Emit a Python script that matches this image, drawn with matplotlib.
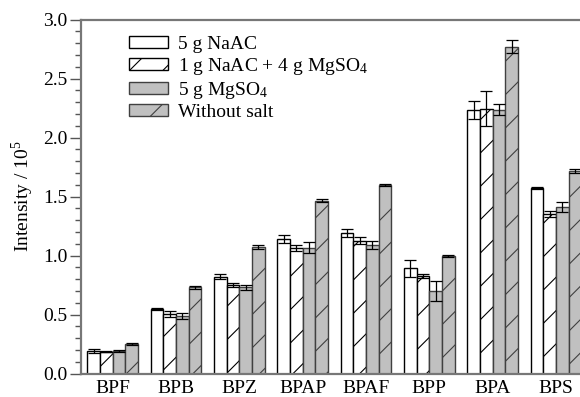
import numpy as np
import matplotlib
matplotlib.use("Agg")
import matplotlib.pyplot as plt
from matplotlib.ticker import MultipleLocator

plt.rcParams['font.family'] = ['Liberation Serif', 'DejaVu Serif']
plt.rcParams['mathtext.fontset'] = 'custom'
plt.rcParams['mathtext.rm'] = 'Liberation Serif'
plt.rcParams['hatch.linewidth'] = 0.8

# data (intensity / 1e5)
compounds = ["BPF", "BPB", "BPZ", "BPAP", "BPAF", "BPP", "BPA", "BPS"]
labels = ["5 g NaAC", r"1 g NaAC + 4 g MgSO$\mathregular{_4}$",
          r"5 g MgSO$\mathregular{_4}$", "Without salt"]
naac = [0.19, 0.547, 0.821, 1.138, 1.19, 0.89, 2.233, 1.57]
naac_err = [0.02, 0.005, 0.02, 0.035, 0.035, 0.07, 0.075, 0.01]
mix = [0.185, 0.505, 0.748, 1.062, 1.127, 0.83, 2.245, 1.354]
mix_err = [0.005, 0.028, 0.017, 0.028, 0.032, 0.017, 0.145, 0.025]
mgso4 = [0.19, 0.488, 0.731, 1.066, 1.09, 0.70, 2.235, 1.41]
mgso4_err = [0.005, 0.028, 0.022, 0.047, 0.035, 0.085, 0.045, 0.04]
nosalt = [0.25, 0.731, 1.069, 1.466, 1.598, 0.997, 2.77, 1.715]
nosalt_err = [0.01, 0.014, 0.018, 0.01, 0.01, 0.01, 0.055, 0.015]

series = [naac, mix, mgso4, nosalt]
errors = [naac_err, mix_err, mgso4_err, nosalt_err]
fills = ["white", "white", "#c0c0c0", "#c0c0c0"]
edges = ["black", "black", "#404040", "#404040"]
hatches = [None, "/", None, "/"]

fig = plt.figure(figsize=(5.8, 3.97), dpi=100)
ax = fig.add_axes([81 / 580, 23.5 / 397, 506.5 / 580, 354 / 397])

x = np.arange(len(compounds))
w = 0.2
for i in range(4):
    ax.bar(x + (i - 1.5) * w, series[i], w, color=fills[i], edgecolor=edges[i],
           hatch=hatches[i], linewidth=1.0, label=labels[i], zorder=2)
    ax.errorbar(x + (i - 1.5) * w, series[i], yerr=errors[i], fmt='none',
                ecolor='black', elinewidth=0.9, capsize=4.5, capthick=0.9, zorder=3)

ax.set_xlim(-0.5, 7.5)
ax.set_ylim(0, 3.0)
ax.set_xticks(x)
ax.set_xticklabels(compounds)
ax.yaxis.set_major_locator(MultipleLocator(0.5))
ax.yaxis.set_minor_locator(MultipleLocator(0.1))
ax.yaxis.set_major_formatter(matplotlib.ticker.FormatStrFormatter('%.1f'))
ax.tick_params(axis='y', which='major', length=8, width=1, color='#555555',
               labelsize=14, pad=2)
ax.tick_params(axis='y', which='minor', length=4, width=1, color='#555555')
ax.tick_params(axis='x', length=0, labelsize=14, pad=5)
for s in ax.spines.values():
    s.set_color('#777777')
    s.set_linewidth(1.6)
ax.set_ylabel(r"Intensity / 10$^{\mathregular{5}}$", fontsize=14, labelpad=5)

ax.legend(loc='upper left', bbox_to_anchor=(0.08, 0.975), frameon=False,
          fontsize=14, handlelength=2.0, handleheight=0.55, labelspacing=0.15,
          handletextpad=0.5, borderaxespad=0)

fig.savefig("out.png", dpi=100)
